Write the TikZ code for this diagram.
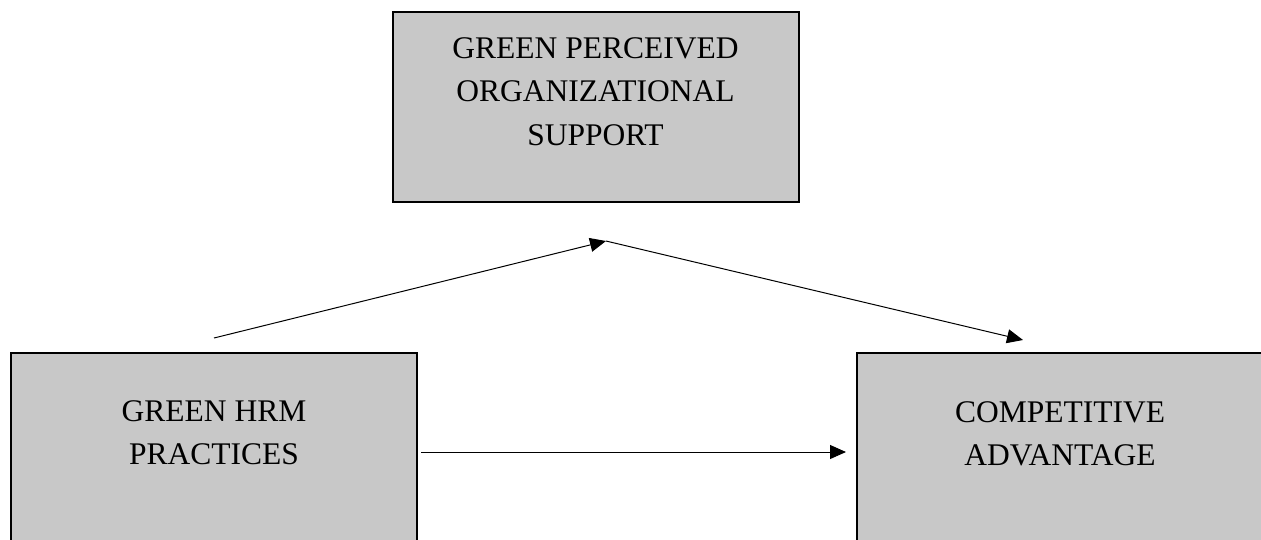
\documentclass[tikz,border=0pt]{standalone}
\usepackage{fontspec}
\setmainfont{Liberation Serif}
\usetikzlibrary{arrows.meta,positioning}
\definecolor{boxgray}{RGB}{200,200,200}
\tikzset{
  box/.style={draw,line width=2pt,fill=boxgray,minimum width=406pt,minimum height=190pt,inner sep=0pt},
  boxtext/.style={anchor=north,align=center,inner sep=0pt,font=\fontsize{31.5}{43.5}\selectfont},
  link/.style={-{Triangle[length=16pt,width=14pt]},line width=1pt}
}
\begin{document}
\begin{tikzpicture}[x=1pt,y=-1pt]
      \clip (0,0) rectangle (1261,539);
      \node[box] (gpos) at (595.5,107) {};
      \node[box,minimum height=198pt] (hrm) at (214,452) {};
      \node[box,minimum height=198pt] (ca) at (1060,452) {};
      \node[boxtext] (gposText) at ([yshift=-26pt]gpos.north) {GREEN PERCEIVED\\ORGANIZATIONAL\\SUPPORT};
      \node[boxtext] (hrmText) at ([yshift=-48pt]hrm.north) {GREEN HRM\\PRACTICES};
      \node[boxtext] (caText) at ([yshift=-49pt]ca.north) {COMPETITIVE\\ADVANTAGE};
      \coordinate (apex) at (606,241);
      \begin{scope}[link]
        \draw ([yshift=14pt]hrm.north) -- (apex);
        \draw (apex) -- ([xshift=-37pt,yshift=12pt]ca.north);
        \draw ([xshift=3pt]hrm.east) -- ([xshift=-10pt]ca.west);
      \end{scope}
    \end{tikzpicture}
\end{document}
